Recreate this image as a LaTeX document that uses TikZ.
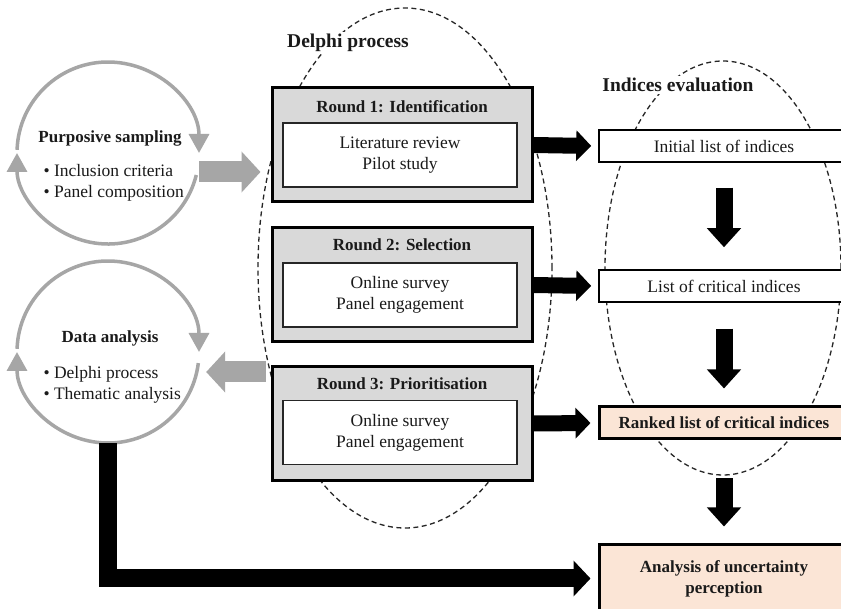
\documentclass[tikz,border=0pt]{standalone}
\usepackage{fontspec}
\setmainfont{Liberation Serif}
\usetikzlibrary{arrows.meta,shapes.geometric}
\definecolor{boxgray}{HTML}{D9D9D9}
\definecolor{peach}{HTML}{FBE5D6}
\definecolor{circgray}{HTML}{A6A6A6}
\definecolor{txt}{HTML}{1A1A1A}
\begin{document}
\begin{tikzpicture}[x=1pt,y=1pt,
  body/.style={font=\fontsize{17.5}{21}\selectfont, text=txt},
  bold/.style={font=\fontsize{17}{21}\selectfont\bfseries, text=txt},
  title/.style={font=\fontsize{19.5}{23}\selectfont\bfseries, text=txt, fill=white, inner sep=2pt},
  dellipse/.style={ellipse, draw=black!85, line width=1.3pt, dash pattern=on 5pt off 3.5pt, inner sep=0},
  roundbox/.style={draw=black, line width=3pt, fill=boxgray, minimum width=260pt, minimum height=114pt, inner sep=0},
  innerbox/.style={draw=black!85, line width=1.5pt, fill=white, minimum width=234pt, minimum height=64pt, inner sep=0, align=center},
  idxbox/.style={draw=black, line width=1.5pt, fill=white, minimum width=250pt, minimum height=32pt, inner sep=0, align=center},
  ring/.style={circle, minimum size=182pt, inner sep=0},
  circarc/.style={draw=circgray, line width=3.5pt, -{Triangle[length=19pt,width=20pt]}},
  grayarrow/.style={draw=circgray, color=circgray, line width=21pt, -{Triangle[length=19pt,width=40pt]}},
  blackh/.style={draw=black, line width=16pt, -{Triangle[length=15pt,width=30pt]}},
  blackv/.style={draw=black, line width=17pt, -{Triangle[length=19pt,width=33pt]}},
  blackl/.style={draw=black, line width=18pt, line join=miter, -{Triangle[length=17pt,width=35pt]}}
]
\useasboundingbox (0,0) rectangle (841,608);
\fill[white] (0,0) rectangle (841,608);
\clip (0,0) rectangle (841,608);

% dashed ellipses
\node[dellipse, minimum width=294pt, minimum height=520pt] (DE) at (405,340) {};
\node[dellipse, minimum width=236pt, minimum height=414pt] (IE) at (723,340) {};

% titles
\node[title] (DL) at (348,565) {Delphi process};
\node[title] (IL) at (678,523) {Indices evaluation};

% cycle circles
\node[ring] (P) at (108,455) {};
\node[ring] (D) at (108,256) {};
\draw[circarc] ([shift={(178:91)}]P.center) arc[start angle=178, end angle=0, radius=91];
\draw[circarc] ([shift={(-14:91)}]P.center) arc[start angle=-14, end angle=-180, radius=91];
\draw[circarc] ([shift={(178:91)}]D.center) arc[start angle=178, end angle=0, radius=91];
\draw[circarc] ([shift={(-7:91)}]D.center) arc[start angle=-7, end angle=-180, radius=91];

\node[bold] (Pt) at (110,470) {Purposive sampling};
\node[body, anchor=west, align=left] (Pb) at (40,425) {• Inclusion criteria\\• Panel composition};
\node[bold] (Dt) at (110,270) {Data analysis};
\node[body, anchor=west, align=left] (Db) at (40,223) {• Delphi process\\• Thematic analysis};

% Delphi rounds
\node[roundbox] (R1) at (402,463) {};
\node[innerbox, body] (R1i) at ([shift={(-2,-10)}]R1.center) {Literature review\\Pilot study};
\node[bold] (R1t) at ([yshift=38]R1.center) {Round 1: Identification};

\node[roundbox] (R2) at (402,323) {};
\node[innerbox, body] (R2i) at ([shift={(-2,-10)}]R2.center) {Online survey\\Panel engagement};
\node[bold] (R2t) at ([yshift=40]R2.center) {Round 2: Selection};

\node[roundbox] (R3) at (402,184.5) {};
\node[innerbox, body] (R3i) at ([shift={(-2,-9)}]R3.center) {Online survey\\Panel engagement};
\node[bold] (R3t) at ([yshift=40]R3.center) {Round 3: Prioritisation};

% index boxes
\node[idxbox, body] (I1) at (724,462) {Initial list of indices};
\node[idxbox, body] (I2) at (724,322) {List of critical indices};
\node[idxbox, bold, fill=peach, line width=3pt] (I3) at (724,185) {Ranked list of critical indices};
\node[idxbox, bold, fill=peach, line width=3pt, minimum height=67pt] (A) at (724,29.5) {Analysis of uncertainty\\perception};

% gray arrows
\draw[grayarrow] ([yshift=-19]P.east) -- ([xshift=-10,yshift=-27]R1.west);
\draw[grayarrow] ([xshift=-5,yshift=51.5]R3.west) -- ([xshift=7,yshift=-20]D.east);

% black arrows
\draw[blackh] (R1.east) -- ([xshift=-7]I1.west);
\draw[blackh] (R2.east) -- ([xshift=-7]I2.west);
\draw[blackh] (R3.east) -- ([xshift=-7]I3.west);
\draw[blackv] ([yshift=-25]I1.south) -- ([yshift=22]I2.north);
\draw[blackv] ([yshift=-26]I2.south) -- ([yshift=17]I3.north);
\draw[blackv] ([yshift=-38]I3.south) -- ([yshift=17]A.north);
\draw[blackl] (D.south) |- ([xshift=-7]A.west);
\end{tikzpicture}
\end{document}
